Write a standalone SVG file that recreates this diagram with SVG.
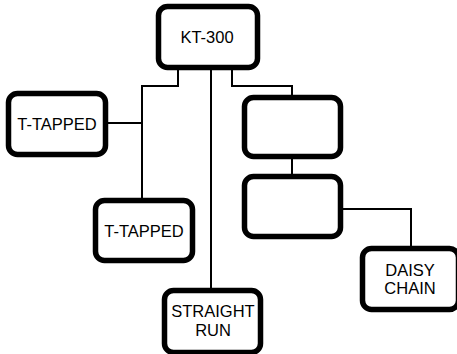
<svg xmlns="http://www.w3.org/2000/svg" width="457" height="354" viewBox="0 0 457 354">
<style>
.box{fill:#fff;stroke:#000;stroke-width:5.5}
.lbl{font-family:"Liberation Sans",Arial,sans-serif;font-size:16.5px;fill:#000;text-anchor:middle}
.wire{fill:none;stroke:#000;stroke-width:2}
</style>
<rect width="457" height="354" fill="#fff"/>
<g id="connectors">
<path class="wire" d="M178,70 V86 H142 V198"/>
<path class="wire" d="M108,123 H142"/>
<path class="wire" d="M211,70 V288"/>
<path class="wire" d="M232,70 V86 H292 V95"/>
<path class="wire" d="M292,159 V174"/>
<path class="wire" d="M343,209 H411 V246"/>
</g>
<g id="kt300"><rect class="box" x="158.5" y="6.5" width="99" height="61" rx="9"/><text class="lbl" x="207" y="43">KT-300</text></g>
<g id="ttapped1"><rect class="box" x="8.5" y="93.5" width="97" height="61" rx="9"/><text class="lbl" x="57" y="130">T-TAPPED</text></g>
<g id="ttapped2"><rect class="box" x="95.5" y="200.5" width="97" height="60" rx="9"/><text class="lbl" x="144" y="237">T-TAPPED</text></g>
<g id="straightrun"><rect class="box" x="164.5" y="290.5" width="96" height="62" rx="9"/><text class="lbl" x="213" y="317">STRAIGHT</text><text class="lbl" x="213" y="336">RUN</text></g>
<g id="blank1"><rect class="box" x="244.5" y="97.5" width="96" height="59" rx="9"/></g>
<g id="blank2"><rect class="box" x="244.5" y="176.5" width="96" height="60" rx="9"/></g>
<g id="daisychain"><rect class="box" x="362.5" y="248.5" width="96" height="61" rx="9"/><text class="lbl" x="410" y="276">DAISY</text><text class="lbl" x="410" y="294">CHAIN</text></g>
</svg>
